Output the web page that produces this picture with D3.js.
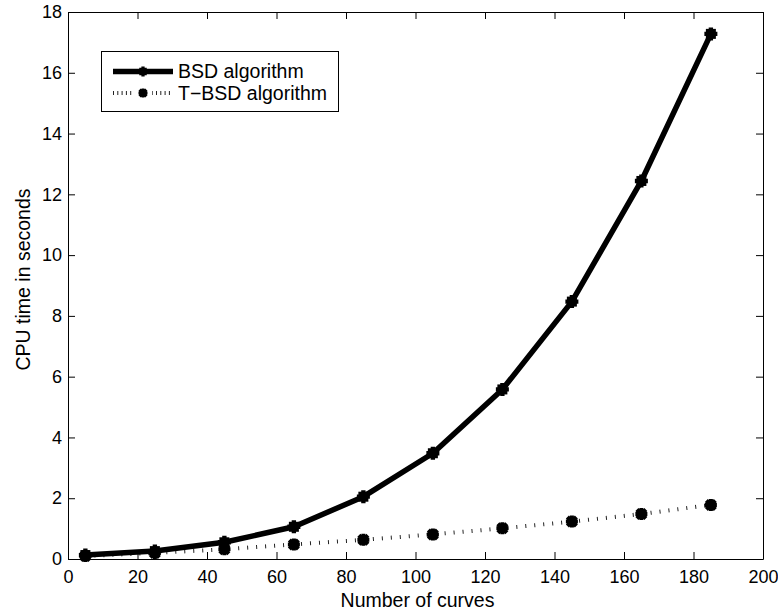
<!DOCTYPE html>
<html>
<head>
<meta charset="utf-8">
<script src="https://cdn.jsdelivr.net/npm/d3@7"></script>
<style>
  html, body { margin: 0; padding: 0; background: #fff; }
  svg { display: block; font-family: "Liberation Sans", Arial, Helvetica, sans-serif; }
</style>
</head>
<body>
<svg id="chart" width="778" height="612"></svg>
<script>
// Curve counts on the x axis
const curveCounts = [5, 25, 45, 65, 85, 105, 125, 145, 165, 185];
// CPU time (seconds) for each algorithm
const bsdTimes  = [0.13, 0.26, 0.55, 1.06, 2.05, 3.48, 5.58, 8.47, 12.44, 17.28];
const tbsdTimes = [0.10, 0.20, 0.32, 0.48, 0.63, 0.81, 1.01, 1.23, 1.48, 1.78];
// Axis ticks
const xTickValues = [0, 20, 40, 60, 80, 100, 120, 140, 160, 180, 200];
const yTickValues = [0, 2, 4, 6, 8, 10, 12, 14, 16, 18];
const seriesNames = ["BSD algorithm", "T\u2212BSD algorithm"];

const svg = d3.select("#chart");
const margin = { left: 68, top: 12, right: 15, bottom: 53 };
const W = 778, H = 612;
const iw = W - margin.left - margin.right;
const ih = H - margin.top - margin.bottom;
const FS = 19.5;      // titles and legend
const TICK_FS = 18;   // tick labels

const x = d3.scaleLinear().domain([0, 200]).range([0, iw]);
const y = d3.scaleLinear().domain([0, 18]).range([ih, 0]);

const g = svg.append("g").attr("transform", `translate(${margin.left},${margin.top})`);

// Axes with inward ticks on all four sides
function styleAxis(sel) {
  sel.select(".domain").attr("stroke", "#000").attr("stroke-width", 1);
  sel.selectAll(".tick line").attr("stroke", "#000").attr("stroke-width", 1);
  sel.selectAll(".tick text").attr("fill", "#000").style("font-size", TICK_FS + "px")
    .style("font-family", '"Liberation Sans", Arial, Helvetica, sans-serif');
}
g.append("g").attr("transform", `translate(0,${ih})`)
  .call(d3.axisBottom(x).tickValues(xTickValues).tickSizeInner(-7).tickSizeOuter(0).tickPadding(11))
  .call(styleAxis);
g.append("g")
  .call(d3.axisLeft(y).tickValues(yTickValues).tickSizeInner(-7).tickSizeOuter(0).tickPadding(6))
  .call(styleAxis);
g.append("g")
  .call(d3.axisTop(x).tickValues(xTickValues).tickSizeInner(-7).tickSizeOuter(0).tickFormat(""))
  .call(styleAxis);
g.append("g").attr("transform", `translate(${iw},0)`)
  .call(d3.axisRight(y).tickValues(yTickValues).tickSizeInner(-7).tickSizeOuter(0).tickFormat(""))
  .call(styleAxis);

// Axis titles
svg.append("text")
  .attr("x", margin.left + iw / 2 + 2).attr("y", 607)
  .attr("text-anchor", "middle").style("font-size", FS + "px")
  .text("Number of curves");
svg.append("text")
  .attr("transform", `translate(30,${margin.top + ih / 2 - 6}) rotate(-90)`)
  .attr("text-anchor", "middle").style("font-size", FS + "px")
  .text("CPU time in seconds");

// Marker shapes
function bsdMarker(sel, scale) {
  sel.append("rect").attr("x", -5 * scale).attr("y", -5 * scale)
    .attr("width", 10 * scale).attr("height", 10 * scale).attr("fill", "#000");
  sel.append("path").attr("d", d3.symbol().type(d3.symbolCross).size(94 * scale * scale)()).attr("fill", "#000");
}
function tbsdMarker(sel, scale) {
  sel.append("circle").attr("r", 5.3 * scale).attr("fill", "#000");
  sel.append("path").attr("d", d3.symbol().type(d3.symbolCross).size(90 * scale * scale)())
    .attr("transform", "rotate(45)").attr("fill", "#000");
  sel.append("path").attr("d", d3.symbol().type(d3.symbolCross).size(80 * scale * scale)())
    .attr("fill", "#000");
}

const line = d3.line().x((d, i) => x(curveCounts[i])).y(d => y(d));

// T-BSD series: dotted line
g.append("path").datum(tbsdTimes)
  .attr("d", line).attr("fill", "none").attr("stroke", "#222")
  .attr("stroke-width", 4).attr("stroke-dasharray", "1,8").attr("stroke-linecap", "butt");
g.selectAll(".tbsd").data(tbsdTimes).enter().append("g")
  .attr("transform", (d, i) => `translate(${x(curveCounts[i])},${y(d)})`)
  .each(function () { tbsdMarker(d3.select(this), 1); });

// BSD series: thick solid line
g.append("path").datum(bsdTimes)
  .attr("d", line).attr("fill", "none").attr("stroke", "#000")
  .attr("stroke-width", 5.5).attr("stroke-linejoin", "round");
g.selectAll(".bsd").data(bsdTimes).enter().append("g")
  .attr("transform", (d, i) => `translate(${x(curveCounts[i])},${y(d)})`)
  .each(function () { bsdMarker(d3.select(this), 1); });

// Legend
const lg = svg.append("g");
lg.append("rect").attr("x", 101.5).attr("y", 51.5).attr("width", 237).attr("height", 60)
  .attr("fill", "#fff").attr("stroke", "#000").attr("stroke-width", 1);
const rowY = [71.5, 93];
lg.append("line").attr("x1", 113).attr("x2", 173).attr("y1", rowY[0]).attr("y2", rowY[0])
  .attr("stroke", "#000").attr("stroke-width", 5.5);
lg.append("g").attr("transform", `translate(143,${rowY[0]})`).call(s => bsdMarker(s, 0.75));
lg.append("line").attr("x1", 113).attr("x2", 173).attr("y1", rowY[1]).attr("y2", rowY[1])
  .attr("stroke", "#222").attr("stroke-width", 4).attr("stroke-dasharray", "1,3.3");
lg.append("rect").attr("x", 134).attr("y", rowY[1] - 5).attr("width", 18).attr("height", 10).attr("fill", "#fff");
lg.append("g").attr("transform", `translate(143,${rowY[1]})`).call(s => tbsdMarker(s, 0.75));
lg.selectAll(".lt").data(seriesNames).enter().append("text")
  .attr("x", 178).attr("y", (d, i) => rowY[i]).attr("dy", "0.35em")
  .style("font-size", FS + "px").text(d => d);
</script>
</body>
</html>
